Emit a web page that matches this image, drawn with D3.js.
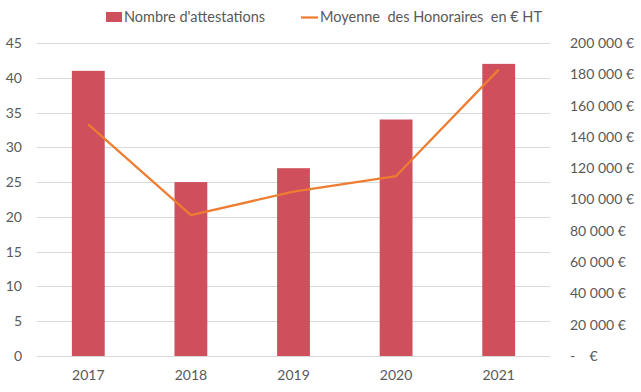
<!DOCTYPE html>
<html>
<head>
<meta charset="utf-8">
<script src="https://cdn.jsdelivr.net/npm/d3@7"></script>
<style>
  body { margin: 0; background: #fff; }
  text { font-family: Lato, "Open Sans", sans-serif; fill: #595959; }
</style>
</head>
<body>
<div id="chart-container"></div>
<script>
const years = ["2017", "2018", "2019", "2020", "2021"];
const attestations = [41, 25, 27, 34, 42];
const honoraires = [148000, 90000, 105000, 115000, 183000];
const leftTicks = [0, 5, 10, 15, 20, 25, 30, 35, 40, 45];
const rightTicks = [0, 20000, 40000, 60000, 80000, 100000, 120000, 140000, 160000, 180000, 200000];

const W = 641, H = 392;
const MARGIN = { left: 37, right: 91, top: 43, bottom: 36 };
const WIDTH = W - MARGIN.left - MARGIN.right;
const HEIGHT = H - MARGIN.top - MARGIN.bottom;

const svg = d3.select("#chart-container").append("svg")
  .attr("width", W)
  .attr("height", H);

const g = svg.append("g")
  .attr("transform", `translate(${MARGIN.left},${MARGIN.top})`);

const x = d3.scaleBand()
  .domain(years)
  .range([0, WIDTH])
  .paddingInner(0.68)
  .paddingOuter(0.34);

const xc = d3.scalePoint().domain(years).range([0, WIDTH]).padding(0.5);

const y = d3.scaleLinear().domain([0, 45]).range([HEIGHT, 0]);
const y2 = d3.scaleLinear().domain([0, 200000]).range([HEIGHT, 0]);

// gridlines
g.append("g")
  .selectAll("line")
  .data(leftTicks)
  .join("line")
  .attr("x1", 0)
  .attr("x2", WIDTH)
  .attr("y1", d => Math.round(y(d)) + 0.5)
  .attr("y2", d => Math.round(y(d)) + 0.5)
  .attr("stroke", "#d9d9d9")
  .attr("stroke-width", 1);

// left axis
const yAxis = d3.axisLeft(y).tickValues(leftTicks).tickSize(0).tickPadding(15);
g.append("g").call(yAxis)
  .call(s => s.select(".domain").remove())
  .selectAll("text").style("font-size", "14px").attr("fill", "#595959");

// right axis, accounting style "-   €" for zero
const fmt = d => d === 0 ? "-    €" : d3.format(",")(d).replace(/,/g, "\u00a0") + " €";
const y2Axis = d3.axisRight(y2).tickValues(rightTicks).tickSize(0).tickPadding(20).tickFormat(fmt);
g.append("g").attr("transform", `translate(${WIDTH},0)`).call(y2Axis)
  .call(s => s.select(".domain").remove())
  .selectAll("text")
  .style("font-size", "14px")
  .style("white-space", "pre")
  .attr("fill", "#595959");

// x axis
const xAxis = d3.axisBottom(x).tickSize(0).tickPadding(14);
g.append("g").attr("transform", `translate(0,${HEIGHT})`).call(xAxis)
  .call(s => s.select(".domain").remove())
  .selectAll("text").style("font-size", "14px").attr("fill", "#595959");

// bars
g.selectAll("rect.bar")
  .data(attestations)
  .join("rect")
  .attr("class", "bar")
  .attr("x", (d, i) => x(years[i]))
  .attr("width", x.bandwidth())
  .attr("y", d => y(d))
  .attr("height", d => HEIGHT - y(d))
  .attr("fill", "#cf4f5c");

// line
const line = d3.line()
  .x((d, i) => xc(years[i]))
  .y(d => y2(d));

g.append("path")
  .datum(honoraires)
  .attr("fill", "none")
  .attr("stroke", "#ed7d31")
  .attr("stroke-width", 2.25)
  .attr("stroke-linejoin", "round")
  .attr("d", line);

// legend
const legend = svg.append("g");
legend.append("rect")
  .attr("x", 106).attr("y", 12).attr("width", 16).attr("height", 10)
  .attr("fill", "#cf4f5c");
legend.append("text")
  .attr("x", 124).attr("y", 22)
  .style("font-size", "14.5px")
  .text("Nombre d'attestations");
legend.append("line")
  .attr("x1", 301).attr("x2", 318).attr("y1", 17.5).attr("y2", 17.5)
  .attr("stroke", "#ed7d31").attr("stroke-width", 2.25);
legend.append("text")
  .attr("x", 320).attr("y", 22)
  .style("font-size", "14.5px")
  .style("white-space", "pre")
  .text("Moyenne  des Honoraires  en € HT");
</script>
</body>
</html>
